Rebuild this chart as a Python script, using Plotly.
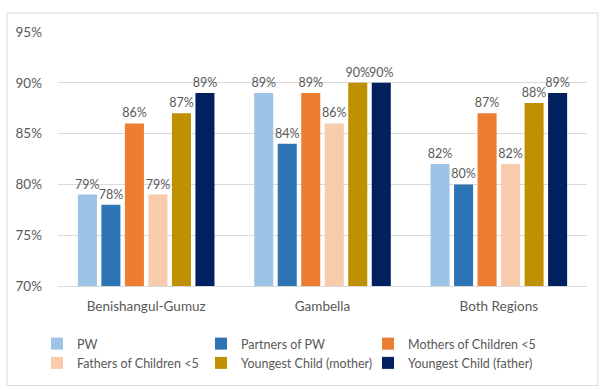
import plotly.graph_objects as go

categories = ["Benishangul-Gumuz", "Gambella", "Both Regions"]
series_names = ["PW", "Partners of PW", "Mothers of Children <5",
                "Fathers of Children <5", "Youngest Child (mother)", "Youngest Child (father)"]
pw = [79, 89, 82]
partners_pw = [78, 84, 80]
mothers_u5 = [86, 89, 87]
fathers_u5 = [79, 86, 82]
youngest_mother = [87, 90, 88]
youngest_father = [89, 90, 89]
tick_vals = [70, 75, 80, 85, 90, 95]
tick_text = ["70%", "75%", "80%", "85%", "90%", "95%"]

series_values = [pw, partners_pw, mothers_u5, fathers_u5, youngest_mother, youngest_father]
colors = ["#9DC3E6", "#2E75B6", "#ED7D31", "#F8CBAD", "#BF9000", "#002060"]
legend_ids = ["legend", "legend2", "legend3", "legend", "legend2", "legend3"]

FONT = "Lato, Open Sans, Liberation Sans, sans-serif"
L, R, T, B = 58, 13, 32, 102
PW_, PH_ = 600 - L - R, 389 - T - B

fig = go.Figure()
for name, vals, col, lg in zip(series_names, series_values, colors, legend_ids):
    fig.add_trace(go.Bar(
        x=categories, y=vals, name=name, marker_color=col,
        marker_line_width=0,
        text=[f"{v}%" for v in vals], textposition="outside",
        textfont=dict(size=12.5, color="#595959", family=FONT),
        constraintext="none",
        cliponaxis=False,
        legend=lg, legendgroup=name,
    ))

legend_style = dict(orientation="v", xanchor="left", y=-(329 - 287) / PH_, yanchor="top",
                    font=dict(size=12.5, color="#595959", family=FONT), traceorder="normal",
                    itemwidth=30, tracegroupgap=9, bgcolor="rgba(0,0,0,0)")
fig.update_layout(
    width=600, height=389,
    margin=dict(l=L, r=R, t=T, b=B),
    paper_bgcolor="white", plot_bgcolor="white",
    font=dict(family=FONT, size=13, color="#595959"),
    barmode="group", bargap=0.2, bargroupgap=0.19,
    legend=dict(x=(37 - L) / PW_, **legend_style),
    legend2=dict(x=(201 - L) / PW_, **legend_style),
    legend3=dict(x=(368 - L) / PW_, **legend_style),
    showlegend=True,
)
fig.update_yaxes(range=[70, 95], tickvals=tick_vals, ticktext=tick_text,
                 showgrid=True, gridcolor="#D9D9D9", gridwidth=1, zeroline=False,
                 showline=False, ticks="", tickfont=dict(size=13.5, color="#595959"),
                 ticklabelstandoff=15)
fig.update_xaxes(showline=True, linecolor="#D9D9D9", linewidth=1, ticks="",
                 tickfont=dict(size=13.5, color="#595959"), ticklabelstandoff=8)

fig.add_shape(type="rect", xref="paper", yref="paper",
              x0=(7 - L) / PW_, x1=(598 - L) / PW_,
              y0=(287 - 387) / PH_, y1=(287 - 13) / PH_,
              line=dict(color="#D9D9D9", width=1), fillcolor="rgba(0,0,0,0)", layer="below")

fig.write_html("out.html")
